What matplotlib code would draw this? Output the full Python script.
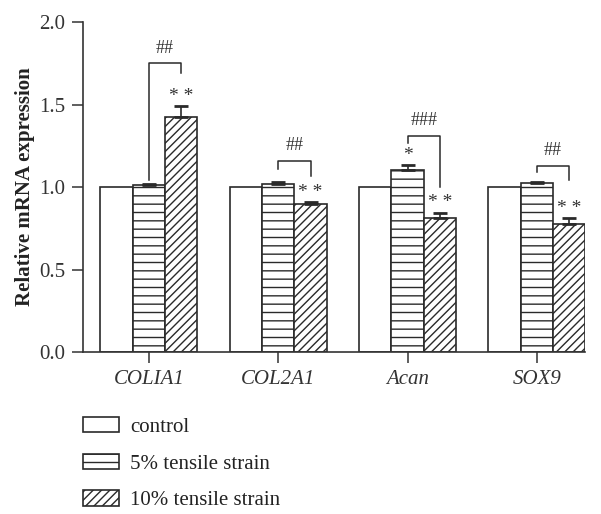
import matplotlib.pyplot as plt
import numpy as np

plt.rcParams['font.family'] = ['Liberation Serif', 'DejaVu Serif']
plt.rcParams['hatch.linewidth'] = 1.0

genes = ['COLIA1', 'COL2A1', 'Acan', 'SOX9']
groups = ['control', '5% tensile strain', '10% tensile strain']
control = [1.0, 1.0, 1.0, 1.0]
strain5 = [1.01, 1.02, 1.105, 1.025]
strain10 = [1.425, 0.895, 0.81, 0.775]
err5 = [0.01, 0.01, 0.028, 0.004]
err10 = [0.065, 0.013, 0.035, 0.035]

stars5 = ['', '', '*', '']
stars10 = ['* *', '* *', '* *', '* *']
hash_text = ['##', '##', '###', '##']
# bracket: top, left leg bottom, right leg bottom
br_top = [1.75, 1.16, 1.31, 1.13]
br_left = [1.04, 1.11, 1.27, 1.09]
br_right = [1.69, 1.07, 1.0, 1.04]

fig = plt.figure(figsize=(6.01, 5.14), dpi=100)
ax = fig.add_axes([0.138, 0.315, 0.835, 0.642])

x = np.arange(len(genes))
w = 0.25
ec = '#2a2a2a'
tc = '#333333'
ax.bar(x - w, control, w, color='white', edgecolor=ec, linewidth=1.2, label=groups[0])
ax.bar(x, strain5, w, color='white', edgecolor=ec, linewidth=1.2, hatch='--', label=groups[1])
ax.bar(x + w, strain10, w, color='white', edgecolor=ec, linewidth=1.2, hatch='////', label=groups[2])
ax.errorbar(x, strain5, yerr=[np.zeros(4), err5], fmt='none', ecolor=ec, elinewidth=1.2, capsize=5, capthick=2)
ax.errorbar(x + w, strain10, yerr=[np.zeros(4), err10], fmt='none', ecolor=ec, elinewidth=1.2, capsize=5, capthick=2)

for i in range(len(genes)):
    xl, xr = x[i], x[i] + w
    ax.plot([xl, xl, xr, xr], [br_left[i], br_top[i], br_top[i], br_right[i]], color=ec, lw=1.1)
    ax.text((xl + xr) / 2, br_top[i] + 0.04, hash_text[i], ha='center', va='bottom', fontsize=13, color=tc)
    ax.text(x[i] + w, strain10[i] + err10[i] + 0.01, stars10[i], ha='center', va='bottom', fontsize=14, color=tc)
    if stars5[i]:
        ax.text(x[i], strain5[i] + err5[i] + 0.01, stars5[i], ha='center', va='bottom', fontsize=14, color=tc)

ax.set_xlim(-0.51, 3.37)
ax.set_ylim(0, 2.0)
ax.set_yticks([0, 0.5, 1.0, 1.5, 2.0])
ax.set_yticklabels(['0.0', '0.5', '1.0', '1.5', '2.0'], fontsize=15, color=tc)
ax.set_xticks(x)
ax.set_xticklabels(genes, fontsize=15, style='italic', color=tc)
ax.set_ylabel('Relative mRNA expression', fontsize=15, fontweight='bold', color='#222222', labelpad=3)
ax.spines['top'].set_visible(False)
ax.spines['right'].set_visible(False)
for s in ['left', 'bottom']:
    ax.spines[s].set_color(tc)
    ax.spines[s].set_linewidth(1.2)
ax.tick_params(length=8, width=1.1, color=tc, pad=5)

leg = fig.legend(loc='upper left', bbox_to_anchor=(0.138, 0.189), frameon=False, fontsize=15,
                 handlelength=1.73, handleheight=0.77, labelspacing=0.8, handletextpad=0.55,
                 borderpad=0, borderaxespad=0)
for t in leg.get_texts():
    t.set_color('#222222')

plt.savefig('out.png', dpi=100)
